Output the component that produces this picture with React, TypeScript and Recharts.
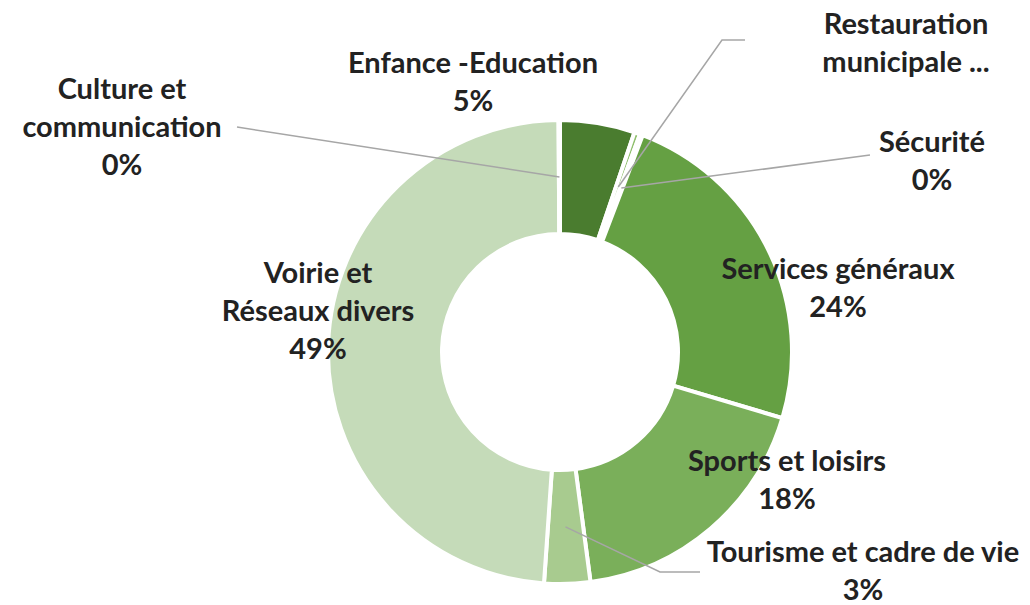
import { Cell, Pie, PieChart } from "recharts";

const categories = [
  "Enfance -Education",
  "Restauration municipale",
  "Sécurité",
  "Services généraux",
  "Sports et loisirs",
  "Tourisme et cadre de vie",
  "Voirie et Réseaux divers",
  "Culture et communication",
];
const shares = [5.2, 0.4, 0.2, 23.8, 18.3, 3.2, 48.8, 0.1];
const colors = ["#4a7c2f", "#8fbf6d", "#5f9a3b", "#65a043", "#7aaf5a", "#a8cb8f", "#c5dbb9", "#b5d2a5"];

// label lines as displayed (Restauration is cut off in the original, no %)
const labelLines: string[][] = [
  ["Enfance -Education"],
  ["Restauration", "municipale ..."],
  ["Sécurité"],
  ["Services généraux"],
  ["Sports et loisirs"],
  ["Tourisme et cadre de vie"],
  ["Voirie et", "Réseaux divers"],
  ["Culture et", "communication"],
];
const showPct = [true, false, true, true, true, true, true, true];

const data = categories.map((name, i) => ({ name, value: shares[i] }));

// manual label placement (Excel-style dragged labels)
const layout: { x: number; y: number; line?: [number, number][] }[] = [
  { x: 473, y: 61 },
  { x: 906, y: 22, line: [[722, 40], [745, 40]] },
  { x: 932, y: 140, line: [[870, 155]] },
  { x: 838, y: 267 },
  { x: 787, y: 459 },
  { x: 863, y: 550, line: [[660, 572], [700, 572]] },
  { x: 318, y: 271 },
  { x: 122, y: 87, line: [[237, 127]] },
];

const RAD = Math.PI / 180;
const LH = 38;

function renderLabel(props: any) {
  const { cx, cy, midAngle, innerRadius, outerRadius, index, percent } = props;
  const pos = layout[index];
  const lines = [...labelLines[index]];
  if (showPct[index]) lines.push(`${Math.round(percent * 100)}%`);
  const r = (innerRadius + outerRadius) / 2;
  const ax = cx + r * Math.cos(-midAngle * RAD);
  const ay = cy + r * Math.sin(-midAngle * RAD);
  return (
    <g key={`lbl-${index}`}>
      {pos.line && (
        <polyline
          points={[[ax, ay], ...pos.line].map((p) => p.join(",")).join(" ")}
          fill="none"
          stroke="#a6a6a6"
          strokeWidth={1.5}
        />
      )}
      <text
        x={pos.x}
        y={pos.y}
        textAnchor="middle"
        dominantBaseline="central"
        fill="#222"
        fontFamily="Lato, sans-serif"
        fontWeight={700}
        fontSize={29}
      >
        {lines.map((t, i) => (
          <tspan key={i} x={pos.x} y={pos.y + i * LH} dominantBaseline="central">
            {t}
          </tspan>
        ))}
      </text>
    </g>
  );
}

export default function App() {
  return (
    <div style={{ position: "absolute", left: 0, top: 0, width: 1030, height: 605, background: "#fff" }}>
      <PieChart width={1030} height={605}>
        <Pie
          data={data}
          dataKey="value"
          nameKey="name"
          cx={555}
          cy={347}
          innerRadius={118}
          outerRadius={232}
          startAngle={90}
          endAngle={-270}
          stroke="#ffffff"
          strokeWidth={4}
          label={renderLabel}
          labelLine={false}
          isAnimationActive={false}
        >
          {data.map((d, i) => (
            <Cell key={d.name} fill={colors[i]} />
          ))}
        </Pie>
      </PieChart>
    </div>
  );
}
